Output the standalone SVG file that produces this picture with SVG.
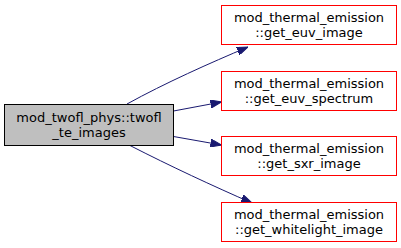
<svg xmlns="http://www.w3.org/2000/svg" width="401" height="248" viewBox="0 0 401 248">
<style>
.t{font-family:"DejaVu Sans",sans-serif;font-size:13px;text-anchor:middle;fill:#000}
.nr{fill:#fff;stroke:#ff0000;stroke-width:1}
.nm{fill:#bfbfbf;stroke:#000;stroke-width:1}
.e{fill:none;stroke:#191970;stroke-width:1}
</style>
<defs>
<marker id="ah" markerUnits="userSpaceOnUse" markerWidth="11" markerHeight="8" refX="11" refY="4" orient="auto">
<path d="M0,0 L11,4 L0,8 z" fill="#191970" stroke="#191970"/>
</marker>
</defs>
<g id="edges">
<path class="e" d="M127,104 C165,83 210,63 248,47" marker-end="url(#ah)"/>
<path class="e" d="M173.5,111 L221.5,102" marker-end="url(#ah)"/>
<path class="e" d="M173.5,136.5 L221.5,145" marker-end="url(#ah)"/>
<path class="e" d="M130,145.5 C170,166 213,186 252,203" marker-end="url(#ah)"/>
</g>
<g id="node_main">
<rect class="nm" x="4.5" y="104.5" width="169" height="41"/>
<text class="t" x="89" y="122">mod_twofl_phys::twofl</text>
<text class="t" x="89" y="137">_te_images</text>
</g>
<g id="node_euv_image">
<rect class="nr" x="221.5" y="5.5" width="175" height="39"/>
<text class="t" x="309" y="21.5">mod_thermal_emission</text>
<text class="t" x="309" y="36.5">::get_euv_image</text>
</g>
<g id="node_euv_spectrum">
<rect class="nr" x="221.5" y="71.5" width="175" height="39"/>
<text class="t" x="309" y="87.5">mod_thermal_emission</text>
<text class="t" x="309" y="102.5">::get_euv_spectrum</text>
</g>
<g id="node_sxr_image">
<rect class="nr" x="221.5" y="136.5" width="175" height="39"/>
<text class="t" x="309" y="152.5">mod_thermal_emission</text>
<text class="t" x="309" y="167.5">::get_sxr_image</text>
</g>
<g id="node_whitelight_image">
<rect class="nr" x="221.5" y="202.5" width="175" height="39"/>
<text class="t" x="309" y="218.5">mod_thermal_emission</text>
<text class="t" x="309" y="233.5">::get_whitelight_image</text>
</g>
</svg>
